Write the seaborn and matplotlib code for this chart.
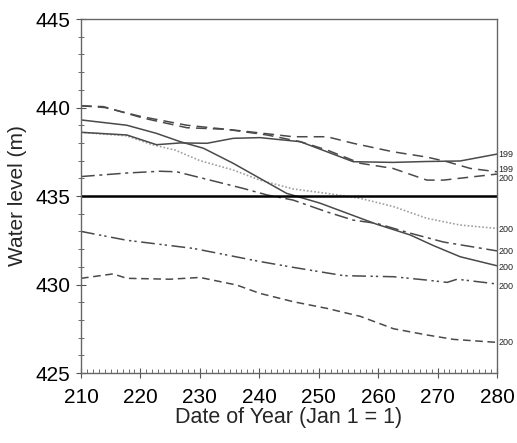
import matplotlib
matplotlib.use("Agg")
import matplotlib.pyplot as plt
import seaborn as sns
import pandas as pd
from matplotlib.ticker import MultipleLocator

sns.set_theme(style="ticks")
plt.rcParams['font.family'] = ['Liberation Sans', 'DejaVu Sans']

# ---- data ----
a_x = [210, 217.7, 222.7, 226.7, 231.2, 235.6, 240.1, 246.9, 251.4, 255.8, 262.5, 268, 273.8, 280]
a_y = [438.6, 438.45, 437.9, 438.0, 437.98, 438.26, 438.3, 438.07, 437.5, 436.94, 436.9, 436.95, 436.98, 437.37]

b_x = [210, 214, 220, 227.8, 237.3, 245.7, 251.4, 255.8, 262.5, 268.2, 271.6, 275.5, 280]
b_y = [440.1, 440.0, 439.5, 439.0, 438.67, 438.35, 438.35, 437.98, 437.5, 437.2, 436.94, 436.56, 436.37]

c_x = [210, 213.8, 220.5, 227.8, 234.5, 241.3, 246.9, 251.4, 257, 262.5, 268.2, 271, 280]
c_y = [440.1, 440.05, 439.4, 438.86, 438.77, 438.45, 438.07, 437.6, 436.85, 436.56, 435.9, 435.9, 436.24]

d_x = [210, 217.7, 222.7, 226.7, 230.6, 235.6, 240.1, 244.6, 250.2, 255.8, 259.8, 265.4, 269.3, 273.8, 280]
d_y = [439.3, 439.0, 438.54, 438.07, 437.7, 436.85, 436.0, 435.15, 434.6, 433.9, 433.4, 432.8, 432.2, 431.57, 431.06]

f_x = [210, 217.7, 222, 225.8, 230, 235.6, 240.1, 245.7, 251.4, 257, 262.6, 268.2, 273.8, 280]
f_y = [438.6, 438.4, 437.9, 437.6, 437.0, 436.47, 435.9, 435.4, 435.15, 434.87, 434.4, 433.74, 433.36, 433.17]

g_x = [210, 217.7, 223.3, 226.1, 231.7, 237.3, 241.3, 245.7, 251.4, 255.8, 259.8, 265.4, 271, 280]
g_y = [436.1, 436.3, 436.4, 436.37, 435.9, 435.43, 435.06, 434.77, 434.1, 433.64, 433.45, 432.9, 432.4, 431.9]

h_x = [210, 217.7, 228.9, 234.5, 240.1, 245.7, 254.2, 262.6, 268.2, 271.6, 273.3, 280]
h_y = [433.0, 432.5, 432.04, 431.67, 431.3, 430.97, 430.5, 430.44, 430.25, 430.12, 430.3, 430.03]

i_x = [210, 215.4, 217.7, 225, 230, 236.2, 240.1, 245.7, 251.4, 257, 262.6, 268.2, 272.7, 280]
i_y = [430.35, 430.6, 430.35, 430.3, 430.4, 429.97, 429.5, 429.03, 428.65, 428.2, 427.5, 427.15, 426.9, 426.73]

ref_level = 435

end_labels = ["199", "199", "200", "200", "200", "200", "200", "200"]
end_label_y = [437.35, 436.5, 436.0, 433.1, 431.85, 430.95, 429.9, 426.7]

x_ticks = [210, 220, 230, 240, 250, 260, 270, 280]
y_ticks = [425, 430, 435, 440, 445]

# ---- plot ----
fig = plt.figure(figsize=(5.17, 4.43), dpi=100)
ax = fig.add_axes([0.1567, 0.158, 0.8046, 0.799])

dark = "#4a4a4a"
series = [
    (f_x, f_y, dict(color="#a0a0a0", linestyle=(0, (1, 1.2)), linewidth=1.2)),
    (a_x, a_y, dict(color=dark, linestyle="-", linewidth=1.1)),
    (b_x, b_y, dict(color=dark, linestyle=(0, (7, 4)), linewidth=1.1)),
    (c_x, c_y, dict(color=dark, linestyle=(0, (7, 4)), linewidth=1.1)),
    (d_x, d_y, dict(color=dark, linestyle="-", linewidth=1.1)),
    (g_x, g_y, dict(color=dark, linestyle=(0, (9, 3, 2, 3)), linewidth=1.1)),
    (h_x, h_y, dict(color=dark, linestyle=(0, (9, 3, 1.5, 2, 1.5, 3)), linewidth=1.1)),
    (i_x, i_y, dict(color=dark, linestyle=(0, (5, 3)), linewidth=1.1)),
]
for xs, ys, kw in series:
    df = pd.DataFrame({"day": xs, "level": ys})
    sns.lineplot(data=df, x="day", y="level", ax=ax, sort=False, **kw)

ax.axhline(ref_level, color="black", linewidth=1.8)

ax.set_xlim(210, 280)
ax.set_ylim(425, 445)
ax.set_xticks(x_ticks)
ax.set_yticks(y_ticks)
ax.xaxis.set_minor_locator(MultipleLocator(1))
ax.yaxis.set_minor_locator(MultipleLocator(1))
ax.tick_params(axis="both", which="major", direction="inout", length=7, width=0.8,
               colors="#555555", labelcolor="black")
ax.tick_params(axis="x", which="major", pad=7)
ax.tick_params(axis="y", which="major", pad=4)
ax.tick_params(axis="x", which="minor", direction="in", length=3, width=0.6, colors="#555555")
ax.tick_params(axis="y", which="minor", direction="inout", length=5, width=0.6, colors="#555555")
for lab in ax.get_xticklabels() + ax.get_yticklabels():
    lab.set_fontsize(15)
for s in ax.spines.values():
    s.set_color("#666666")
    s.set_linewidth(1.0)

ax.set_xlabel("Date of Year (Jan 1 = 1)", fontsize=15.5, labelpad=0)
ax.set_ylabel("Water level (m)", fontsize=15, labelpad=6)

for lbl, yy in zip(end_labels, end_label_y):
    ax.text(280.3, yy, lbl, fontsize=6.5, va="center", ha="left", clip_on=False)

fig.savefig("out.png", dpi=100)
